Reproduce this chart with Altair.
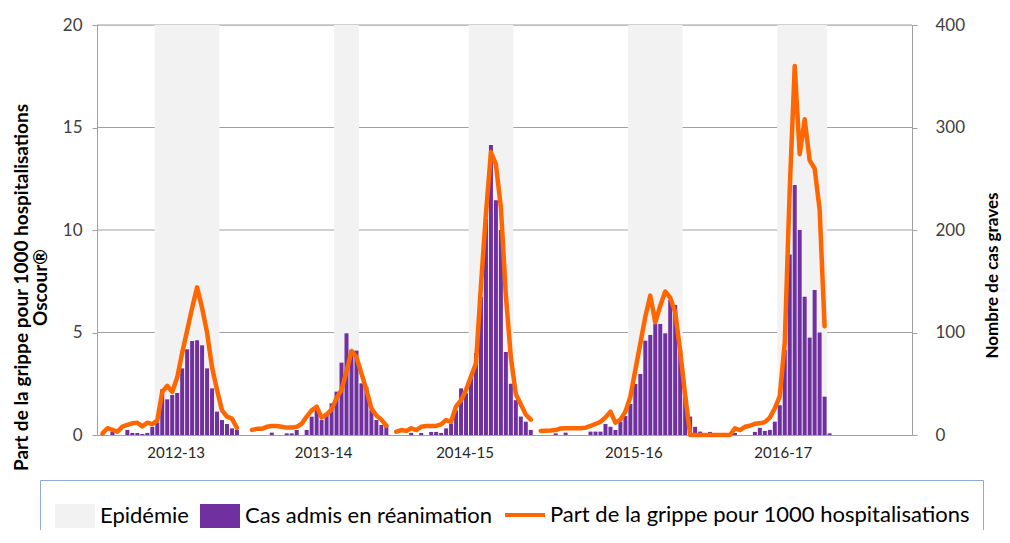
import altair as alt
import pandas as pd

# ---------------- data ----------------
# week index of the first week of each continuous data segment
week_start = [0, 30, 59, 88]

# Part de la grippe pour 1000 hospitalisations (left axis)
share_1213 = [0.08, 0.33, 0.25, 0.16, 0.41, 0.49, 0.57, 0.6, 0.42, 0.6,
              0.53, 0.7, 2.1, 2.4, 2.1, 2.8, 4.0, 5.1, 6.2, 7.2,
              6.2, 5.0, 3.3, 2.2, 1.2, 0.9, 0.8, 0.35]
share_1314 = [0.25, 0.3, 0.3, 0.4, 0.44, 0.44, 0.4, 0.36, 0.36, 0.4,
              0.55, 0.9, 1.2, 1.38, 0.85, 1.0, 1.25, 1.8, 2.2, 3.1,
              4.1, 3.8, 3.0, 2.2, 1.3, 0.95, 0.75, 0.45]
share_1415 = [0.16, 0.24, 0.2, 0.33, 0.24, 0.4, 0.44, 0.44, 0.44, 0.52,
              0.73, 0.65, 1.4, 1.7, 2.2, 2.85, 3.5, 7.3, 10.8, 13.8,
              13.2, 11.1, 6.8, 3.8, 2.0, 1.5, 1.0, 0.75]
share_1517 = [0.2, 0.21, 0.22, 0.24, 0.32, 0.33, 0.33, 0.33, 0.33, 0.36,
              0.44, 0.54, 0.65, 0.86, 1.14, 0.6, 0.75, 1.14, 1.87, 3.17,
              4.47, 5.77, 6.8, 5.5, 6.3, 7.0, 6.7, 6.0, 4.1, 1.95,
              0, 0, 0, 0, 0, 0, 0, 0, 0, 0.33,
              0.24, 0.4, 0.45, 0.55, 0.57, 0.63, 0.85, 1.3, 1.9, 4.5,
              12.0, 18.0, 13.7, 15.4, 13.4, 13.0, 11.0, 5.3]

# Cas admis en réanimation (right axis)
cases_1213 = [1, 0, 3, 0, 0, 5, 2, 2, 1, 2,
              8, 12, 44.6, 34.8, 39, 41, 65, 83.6, 91.7, 92.4,
              87.5, 65, 45.5, 22.8, 14.6, 10.7, 6.5, 4.9]
cases_1314 = [0, 0, 0, 0, 2.3, 0, 0, 1.6, 1.6, 4.9,
              0, 4.9, 17.9, 24.4, 14.6, 21, 30.9, 42.3, 70.6, 99.2,
              82.9, 82.3, 50.4, 47, 24.4, 14.6, 9.8, 9.8]
cases_1415 = [0, 0, 0, 2, 0, 2, 0, 3, 3, 2,
              6.5, 11, 24, 45.5, 40.7, 57, 80, 135, 211, 283,
              229, 200, 81, 50, 34, 18, 13, 5]
cases_1517 = [0, 0, 0, 1.6, 0, 2.3, 0, 0, 0, 0,
              3.3, 3.3, 3.3, 10.7, 8.1, 4.9, 13, 18.5, 30.2, 49.8,
              59.5, 92, 97.6, 108.3, 108.3, 99.2, 131.7, 126.8, 83, 38,
              18, 8, 3.3, 0, 3, 0, 0, 0, 0, 2,
              0, 0, 0, 3, 7, 4, 5, 13, 29, 83,
              176, 244, 200, 135, 95, 141.5, 100, 37.4, 1.6]

# epidemic periods (week index bounds)
epi_start = [10.5, 46.5, 73.5, 105.5, 135.5]
epi_end = [23.5, 51.5, 82.5, 116.5, 145.5]

# season labels on the x axis
season_labels = ["2012-13", "2013-14", "2014-15", "2015-16", "2016-17"]
season_label_pos = [14.7, 44.3, 72.7, 106.6, 136.6]

S_EPI = "Epidémie"
S_BAR = "Cas admis en réanimation"
S_LINE = "Part de la grippe pour 1000 hospitalisations"
series_names = [S_EPI, S_BAR, S_LINE]
series_colors = ["#F2F2F2", "#7030A0", "#FF6600"]

# ---------------- tables ----------------
rows = []
segs = zip(week_start,
           [share_1213, share_1314, share_1415, share_1517],
           [cases_1213, cases_1314, cases_1415, cases_1517],
           ["a", "b", "c", "d"])
for start, shares, cases, seg in segs:
    n = max(len(shares), len(cases))
    for k in range(n):
        rows.append({
            "week": start + k,
            "share": shares[k] if k < len(shares) else None,
            "cases": cases[k] if k < len(cases) else None,
            "seg": seg,
        })
df = pd.DataFrame(rows)
df_epi = pd.DataFrame({"start": epi_start, "end": epi_end, "series": S_EPI})
df_grid = pd.DataFrame({"v": [5, 10, 15, 20]})

GRAY = "#A0A0A0"
FONT = "Lato"

label_expr = " : ".join(
    f"datum.value == {p} ? '{s}'" for p, s in zip(season_label_pos, season_labels)
) + " : ''"

x_scale = alt.Scale(domain=[-1.1, 162.55], nice=False, zero=False, padding=0)
x_axis = alt.Axis(values=season_label_pos, labelExpr=label_expr, ticks=False,
                  grid=False, domainColor=GRAY, labelFont=FONT, labelFontSize=15,
                  labelColor="#262626", labelPadding=10, title=None,
                  labelOverlap=False, labelFlush=False)

fill_scale = alt.Scale(domain=series_names, range=series_colors)
stroke_scale = alt.Scale(domain=series_names, range=series_colors)

sym_expr = (f"datum.value === '{S_LINE}' ? 'M-1,-0.6M-1,0L1,0M1,0.6' : "
            "'M-0.9,-0.5L0.9,-0.5L0.9,0.5L-0.9,0.5Z'")
legend = alt.Legend(title=None, orient="none", legendX=-57, legendY=455,
                    direction="horizontal", columns=3,
                    symbolType={"expr": sym_expr}, symbolSize=1600,
                    symbolStrokeWidth=4, labelFont=FONT, labelFontSize=22,
                    labelColor="black", labelLimit=1000, labelOffset=3,
                    columnPadding=5, padding=13, strokeColor="#8EA9DB",
                    fillColor="white")

left_axis = alt.Axis(orient="left", values=[0, 5, 10, 15, 20], tickSize=5,
                     tickColor=GRAY, domainColor=GRAY, labelFont=FONT,
                     labelFontSize=17, labelColor="#404040", labelPadding=10,
                     grid=False,
                     title=["Part de la grippe pour 1000  hospitalisations", "Oscour®"],
                     titleFont=FONT, titleFontSize=19, titleFontWeight="bold",
                     titleColor="black", titleAngle=270, titleX=-76, titleY=262,
                     titleAlign="center", titleBaseline="middle", titleLineHeight=19)

right_axis = alt.Axis(orient="right", values=[0, 100, 200, 300, 400], tickSize=5,
                      tickColor=GRAY, domainColor=GRAY, labelFont=FONT,
                      labelFontSize=17, labelColor="#404040", labelPadding=18,
                      grid=False, title="Nombre de cas graves", titleFont=FONT,
                      titleFontSize=17, titleFontWeight="bold", titleColor="black",
                      titleAngle=270, titleX=80, titleY=250, titleAlign="center",
                      titleBaseline="middle")

grid = alt.Chart(df_grid).mark_rule(color=GRAY, strokeWidth=1).encode(
    y=alt.Y("v:Q", scale=alt.Scale(domain=[0, 20], nice=False), axis=left_axis)
)

shade = alt.Chart(df_epi).mark_rect().encode(
    x=alt.X("start:Q", scale=x_scale, axis=x_axis),
    x2="end:Q",
    fill=alt.Fill("series:N", scale=fill_scale, legend=legend),
)

bars = alt.Chart(df).transform_filter("datum.cases > 0").transform_calculate(
    series=f"'{S_BAR}'"
).mark_bar(size=4).encode(
    x=alt.X("week:Q", scale=x_scale, axis=x_axis),
    y=alt.Y("cases:Q", scale=alt.Scale(domain=[0, 400], nice=False), axis=right_axis),
    fill=alt.Fill("series:N", scale=fill_scale, legend=legend),
)

line = alt.Chart(df).transform_filter("isValid(datum.share)").transform_calculate(
    series=f"'{S_LINE}'"
).mark_line(strokeWidth=4.5, strokeJoin="round", strokeCap="round").encode(
    x=alt.X("week:Q", scale=x_scale, axis=x_axis),
    y=alt.Y("share:Q", scale=alt.Scale(domain=[0, 20], nice=False), axis=None),
    stroke=alt.Stroke("series:N", scale=stroke_scale, legend=legend),
    detail="seg:N",
    order="week:Q",
)

chart = alt.layer(grid, shade, bars, line).resolve_scale(
    y="independent"
).properties(
    width=815, height=410,
    padding={"left": 89, "top": 17, "right": 90, "bottom": 95},
    autosize=alt.AutoSizeParams(type="none"),
).configure_view(stroke=None).configure(font=FONT)

chart.save("out.html", embed_options={"renderer": "svg", "actions": False})
